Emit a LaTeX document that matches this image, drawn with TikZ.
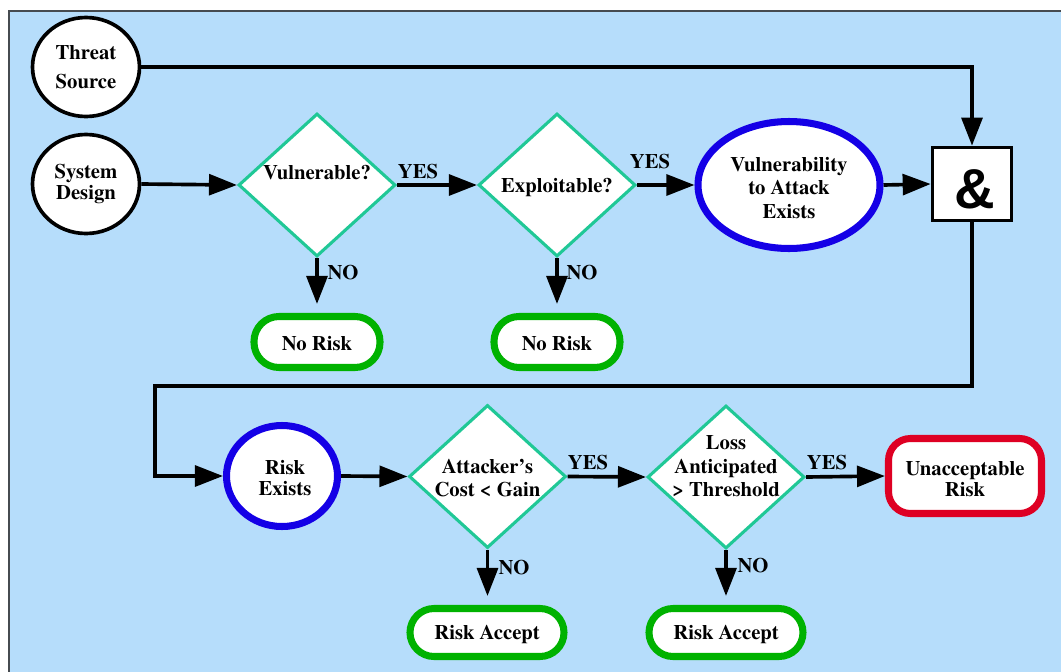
\documentclass[tikz,border=0pt]{standalone}
\usepackage{fontspec}
\setmainfont{texgyretermes}[Extension=.otf, UprightFont=*-regular, BoldFont=*-bold]
\newfontfamily\labelfont{texgyretermes}[Extension=.otf, UprightFont=*-bold, Ligatures=TeX]
\newfontfamily\ampfont{Liberation Sans Bold}
\usetikzlibrary{shapes.geometric,arrows.meta}
\newdimen\pxu \pxu=0.025cm
\definecolor{panelblue}{RGB}{182,221,251}
\definecolor{panelrule}{RGB}{70,75,80}
\definecolor{decgreen}{RGB}{32,200,150}
\definecolor{okgreen}{RGB}{0,178,0}
\definecolor{stateblue}{RGB}{20,0,230}
\definecolor{alarmred}{RGB}{222,0,35}
\tikzset{
  txt/.style={font=\labelfont\fontsize{14.7}{15}\selectfont, align=center, inner sep=0pt},
  conn/.style={draw=black, line width=2.6pt, -{Triangle[length=0.7cm,width=0.52cm]}},
  source/.style={ellipse, draw=black, line width=2.6pt, fill=white, inner sep=0pt,
    minimum width=107\pxu, minimum height=99\pxu},
  decision/.style={diamond, draw=decgreen, line width=2.2pt, fill=white, inner sep=0pt,
    minimum width=157\pxu, minimum height=143\pxu},
  state/.style={ellipse, draw=stateblue, line width=5pt, fill=white, inner sep=0pt},
  outcome/.style={rectangle, draw=okgreen, line width=5pt, fill=white, inner sep=0pt,
    minimum width=154\pxu, minimum height=48\pxu, rounded corners=24\pxu},
}
\begin{document}
\begin{tikzpicture}[x=0.025cm, y=-0.025cm]
\useasboundingbox (0,0) rectangle (1061,672);
\clip (0,0) rectangle (1061,672);

% background panel
\fill[panelblue] (9,11) rectangle (1090,700);
\draw[panelrule, line width=1.4pt] (1090,11) -- (9,11) -- (9,700);

% inputs
\node[source, txt] (threat) at (86,67) {Threat\\[6pt]Source};
\node[source, txt] (sysd) at (86,184) {System\\Design};

% first row
\node[decision] (vulq) at (317,185) {};
\node[txt] (vulqt) at (317,173) {Vulnerable?};
\node[decision] (expq) at (557,185) {};
\node[txt] (expqt) at (557,187) {Exploitable?};
\node[state, minimum width=182\pxu, minimum height=127\pxu] (vuln) at (789,185) {};
\node[txt] (vulnt) at (789,188) {Vulnerability\\[1.5pt]to Attack\\[1.5pt]Exists};
\node[draw=black, line width=2.6pt, fill=white, minimum width=79\pxu, minimum height=73\pxu,
  inner sep=0pt] (amp) at (972,184) {};
\node[font=\ampfont\fontsize{40}{40}\selectfont, inner sep=0pt] (ampt) at (975,189) {\&};

\node[outcome, minimum width=126\pxu, minimum height=51\pxu, rounded corners=25\pxu] (nr1) at (317,342) {};
\node[txt] (nr1t) at (317,344) {No Risk};
\node[outcome, minimum width=126\pxu, minimum height=51\pxu, rounded corners=25\pxu] (nr2) at (557,342) {};
\node[txt] (nr2t) at (557,344) {No Risk};

% second row
\node[state, minimum width=111\pxu, minimum height=101\pxu] (risk) at (282,476) {};
\node[txt] (riskt) at (285,478) {Risk\\Exists};
\node[decision] (costq) at (487.5,476.5) {};
\node[txt] (costqt) at (487.5,478) {Attacker’s\\[1pt]Cost < Gain};
\node[decision] (lossq) at (726,477) {};
\node[txt] (lossqt) at (726,466) {Loss\\[2pt]Anticipated\\[1pt]> Threshold};
\node[rectangle, draw=alarmred, line width=5pt, fill=white, minimum width=153\pxu,
  minimum height=75\pxu, rounded corners=22\pxu] (unacc) at (965,476) {};
\node[txt] (unacct) at (965,479) {Unacceptable\\Risk};
\node[outcome] (acc1) at (487,632.5) {};
\node[txt] (acc1t) at (487,634) {Risk Accept};
\node[outcome] (acc2) at (726,632.5) {};
\node[txt] (acc2t) at (726,634) {Risk Accept};

% connectors
\draw[conn] (threat.east) -| (amp.north);
\draw[conn] (sysd.east) -- (vulq.west);
\draw[conn] (vulq.east) -- (expq.west);
\draw[conn] (expq.east) -- (vuln.west);
\draw[conn] (vuln.east) -- (amp.west);
\draw[conn, shorten >=9\pxu] (vulq.south) -- (vulq.south |- nr1.north);
\draw[conn, shorten >=9\pxu] (expq.south) -- (expq.south |- nr2.north);

\coordinate (loopR) at (972,386);
\coordinate (loopL) at (155,386);
\draw[conn] (amp.south) -- (loopR) -- (loopL) |- (risk.west);

\draw[conn] (risk.east) -- (costq.west);
\draw[conn] (costq.east) -- (lossq.west);
\draw[conn] (lossq.east) -- (unacc.west);
\draw[conn, shorten >=9\pxu] (costq.south) -- (costq.south |- acc1.north);
\draw[conn, shorten >=9\pxu] (lossq.south) -- (lossq.south |- acc2.north);

% branch labels
\node[txt] (yes1) at (418,172) {YES};
\node[txt] (yes2) at (650,162) {YES};
\node[txt] (no1) at (343,273) {NO};
\node[txt] (no2) at (582,273) {NO};
\node[txt] (yes3) at (588,463) {YES};
\node[txt] (yes4) at (827,463) {YES};
\node[txt] (no3) at (514,568) {NO};
\node[txt] (no4) at (753,566) {NO};
\end{tikzpicture}
\end{document}
